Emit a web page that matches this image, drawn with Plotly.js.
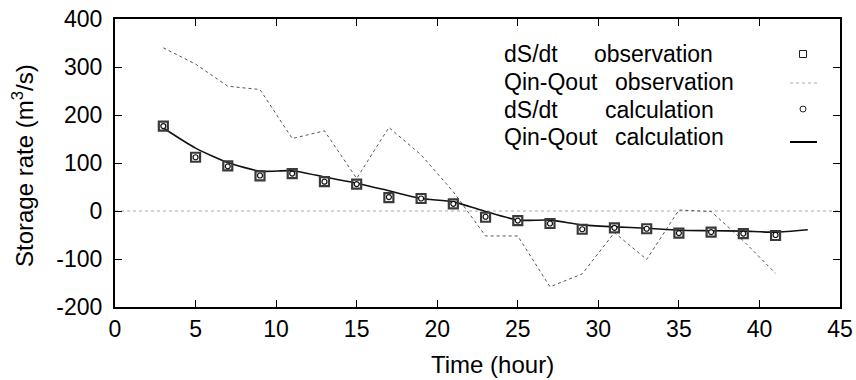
<!DOCTYPE html>
<html><head><meta charset="utf-8">
<script src="https://cdn.plot.ly/plotly-3.0.1.min.js"></script>
<style>body{margin:0;background:#fff}#chart{width:856px;height:380px}</style>
</head><body><div id="chart"></div>
<script>
// ---- data ----
const hoursObs = [3,5,7,9,11,13,15,17,19,21,23,25,27,29,31,33,35,37,39,41];
const dsdtObs  = [177,112,94,73,78,61,56,28,26,15,-13,-20,-26,-38,-35,-37,-46,-44,-47,-51];
const dsdtCalc = [177,112,93,74,78,61,56,29,26,15,-12,-20,-26,-38,-35,-37,-46,-44,-47,-50];
const qObs     = [340,306,260,253,151,167,68,174,117,40,-52,-52,-158,-131,-45,-101,2,-1,-62,-130];
const hoursCalc = [3,5,7,9,11,13,15,17,19,21,23,25,27,29,31,33,35,37,39,41,43];
const qCalc    = [173,131,101,83,84,71,58,42,26,19,-1,-19,-19,-29,-33,-36,-40,-41,-42,-44,-39];
const xTickVals = [0,5,10,15,20,25,30,35,40,45];
const xTickText = ["0","5","10","15","20","25","30","35","40","45"];
const yTickVals = [-200,-100,0,100,200,300,400];
const yTickText = ["-200","-100","0","100","200","300","400"];
const legendLabels = [["dS/dt","observation"],["Qin-Qout","observation"],["dS/dt","calculation"],["Qin-Qout","calculation"]];
const xTitle = "Time (hour)";
const yTitle = "Storage rate (m<sup>3</sup>/s)";

const FONT = "Liberation Sans, Arial, sans-serif";
const traces = [
  {x:[0,45], y:[0,0], mode:'lines', line:{color:'#aaaaaa', width:1, dash:'dot'}, hoverinfo:'skip'},
  {x:hoursObs, y:qObs, mode:'lines', line:{color:'#555555', width:1, dash:'dot'}},
  {x:hoursCalc, y:qCalc, mode:'lines', line:{color:'#111111', width:1.6, shape:'spline', smoothing:0.6}},
  {x:hoursObs, y:dsdtObs, mode:'markers', marker:{symbol:'square-open', size:9, color:'#3a3a3a', line:{width:2.2, color:'#3a3a3a'}}},
  {x:hoursObs, y:dsdtCalc, mode:'markers', marker:{symbol:'circle', size:5, color:'#ffffff', line:{width:1.2, color:'#111111'}}}
];

// custom legend: text on the left, symbol on the right
const rowsY = [54, 82, 110, 137];
const L = 115, R = 840, T = 19, B = 307;
const px2x = p => (p - L)/(R - L);
const px2y = p => (B - p)/(B - T);
const secondCol = [592, 613, 603, 613];
const annotations = [];
legendLabels.forEach((pair, i) => {
  annotations.push({xref:'paper', yref:'paper', x:px2x(502), y:px2y(rowsY[i]), xanchor:'left', yanchor:'middle', text:pair[0], showarrow:false, font:{family:FONT, size:23, color:'#000'}});
  annotations.push({xref:'paper', yref:'paper', x:px2x(secondCol[i]), y:px2y(rowsY[i]), xanchor:'left', yanchor:'middle', text:pair[1], showarrow:false, font:{family:FONT, size:23, color:'#000'}});
});
annotations.push({xref:'paper', yref:'paper', x:px2x(493), y:px2y(364), xanchor:'center', yanchor:'middle', text:xTitle, showarrow:false, font:{family:FONT, size:24, color:'#000'}});
annotations.push({xref:'paper', yref:'paper', x:px2x(23), y:px2y(166), xanchor:'center', yanchor:'middle', textangle:-90, text:yTitle, showarrow:false, font:{family:FONT, size:24, color:'#000'}});

const sx = px2x(803);
const shapes = [
  {type:'rect', xref:'paper', yref:'paper', xsizemode:'pixel', ysizemode:'pixel', xanchor:sx, yanchor:px2y(54), x0:-3.5, x1:3.5, y0:-3.5, y1:3.5, line:{color:'#222', width:1}, fillcolor:'#fff'},
  {type:'line', xref:'paper', yref:'paper', x0:px2x(790), x1:px2x(817), y0:px2y(83), y1:px2y(83), line:{color:'#aaaaaa', width:1, dash:'dot'}},
  {type:'circle', xref:'paper', yref:'paper', xsizemode:'pixel', ysizemode:'pixel', xanchor:sx, yanchor:px2y(109), x0:-3, x1:3, y0:-3, y1:3, line:{color:'#222', width:1}, fillcolor:'#fff'},
  {type:'line', xref:'paper', yref:'paper', x0:px2x(790), x1:px2x(817), y0:px2y(142), y1:px2y(142), line:{color:'#000', width:2}}
];

const axisCommon = {showgrid:false, zeroline:false, showline:true, linecolor:'#000', linewidth:2, mirror:'ticks', ticks:'inside', ticklen:7, tickwidth:1, tickcolor:'#000', tickfont:{family:FONT, size:23, color:'#000'}};
const layout = {
  width:856, height:380,
  margin:{l:L, r:856-R, t:T, b:380-B},
  paper_bgcolor:'#fff', plot_bgcolor:'#fff',
  showlegend:false,
  font:{family:FONT, color:'#000'},
  xaxis:Object.assign({}, axisCommon, {range:[0,45], tickmode:'array', tickvals:xTickVals, ticktext:xTickText, ticklabelstandoff:0}),
  yaxis:Object.assign({}, axisCommon, {range:[-200,400], tickmode:'array', tickvals:yTickVals, ticktext:yTickText, ticklabelstandoff:6}),
  annotations:annotations,
  shapes:shapes
};
Plotly.newPlot('chart', traces, layout, {staticPlot:true, displayModeBar:false});
</script></body></html>
